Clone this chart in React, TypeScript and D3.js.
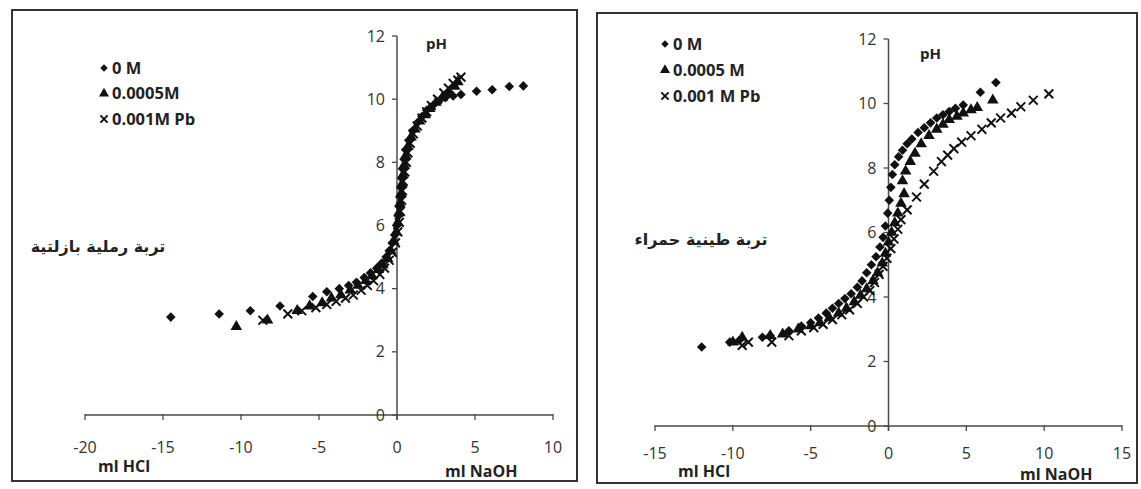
import React from "react";
import * as d3 from "d3";

type Pt = [number, number];

// Sandy basaltic soil (left panel): [ml titrant (HCl negative, NaOH positive), pH]
const sandyZeroM: Pt[] = [
  [-14.5, 3.1], [-11.4, 3.2], [-9.4, 3.3], [-7.5, 3.45], [-5.4, 3.75], [-4.5, 3.9],
  [-3.7, 4.0], [-3.1, 4.1], [-2.6, 4.2], [-2.1, 4.35], [-1.7, 4.5], [-1.3, 4.65],
  [-1.0, 4.8], [-0.7, 5.0], [-0.5, 5.2], [-0.3, 5.45], [-0.15, 5.7], [0.0, 6.0],
  [0.1, 6.3], [0.15, 6.6], [0.2, 6.9], [0.25, 7.2], [0.3, 7.5], [0.35, 7.8],
  [0.45, 8.1], [0.55, 8.4], [0.75, 8.7], [1.0, 9.0], [1.3, 9.25], [1.6, 9.45],
  [1.9, 9.65], [2.3, 9.8], [2.7, 9.95], [3.1, 10.05], [3.6, 10.1], [4.1, 10.15],
  [5.1, 10.25], [6.1, 10.3], [7.2, 10.4], [8.1, 10.42],
];
const sandyHalfMilli: Pt[] = [
  [-10.3, 2.8], [-8.3, 3.0], [-6.4, 3.3], [-5.6, 3.45], [-4.8, 3.55], [-4.2, 3.7],
  [-3.6, 3.8], [-3.0, 3.95], [-2.5, 4.1], [-2.0, 4.25], [-1.6, 4.4], [-1.2, 4.6],
  [-0.9, 4.75], [-0.6, 4.95], [-0.4, 5.2], [-0.2, 5.5], [-0.05, 5.8], [0.05, 6.1],
  [0.12, 6.4], [0.18, 6.7], [0.25, 7.0], [0.3, 7.3], [0.38, 7.6], [0.45, 7.9],
  [0.55, 8.2], [0.7, 8.5], [0.9, 8.8], [1.15, 9.05], [1.45, 9.3], [1.8, 9.5],
  [2.1, 9.7], [2.5, 9.9], [2.9, 10.05], [3.3, 10.2], [3.7, 10.4], [3.9, 10.55],
];
const sandyOneMilliPb: Pt[] = [
  [-8.6, 3.0], [-7.0, 3.2], [-6.1, 3.3], [-5.2, 3.4], [-4.5, 3.5], [-3.9, 3.6],
  [-3.3, 3.7], [-2.8, 3.8], [-2.3, 3.95], [-1.9, 4.1], [-1.5, 4.25], [-1.1, 4.45],
  [-0.8, 4.65], [-0.5, 4.9], [-0.3, 5.15], [-0.1, 5.45], [0.05, 5.8], [0.15, 6.1],
  [0.22, 6.45], [0.3, 6.8], [0.35, 7.1], [0.4, 7.4], [0.5, 7.7], [0.6, 8.0],
  [0.7, 8.3], [0.85, 8.6], [1.05, 8.9], [1.3, 9.15], [1.6, 9.4], [1.9, 9.6],
  [2.2, 9.8], [2.6, 10.0], [3.0, 10.2], [3.3, 10.35], [3.6, 10.5], [3.9, 10.6],
  [4.1, 10.7],
];

// Red clay soil (right panel)
const clayZeroM: Pt[] = [
  [-12.0, 2.45], [-10.2, 2.6], [-9.6, 2.65], [-8.1, 2.75], [-7.6, 2.8], [-6.4, 2.95],
  [-5.6, 3.1], [-5.0, 3.2], [-4.5, 3.35], [-4.0, 3.5], [-3.6, 3.65], [-3.2, 3.8],
  [-2.8, 3.95], [-2.4, 4.1], [-2.0, 4.3], [-1.7, 4.5], [-1.4, 4.75], [-1.1, 5.0],
  [-0.8, 5.25], [-0.55, 5.55], [-0.35, 5.85], [-0.2, 6.2], [-0.05, 6.6], [0.05, 7.0],
  [0.15, 7.4], [0.25, 7.8], [0.4, 8.1], [0.65, 8.35], [0.9, 8.55], [1.2, 8.75],
  [1.5, 8.9], [1.9, 9.1], [2.3, 9.25], [2.7, 9.4], [3.1, 9.55], [3.5, 9.65],
  [3.9, 9.75], [4.3, 9.85], [4.8, 9.95], [5.9, 10.35], [6.9, 10.65],
];
const clayHalfMilli: Pt[] = [
  [-10.0, 2.6], [-9.4, 2.75], [-7.6, 2.8], [-6.8, 2.85], [-5.8, 3.0], [-5.0, 3.1],
  [-4.4, 3.2], [-3.8, 3.35], [-3.2, 3.5], [-2.7, 3.65], [-2.2, 3.85], [-1.8, 4.05],
  [-1.4, 4.25], [-1.0, 4.5], [-0.7, 4.75], [-0.4, 5.05], [-0.2, 5.35], [0.0, 5.7],
  [0.2, 6.0], [0.4, 6.3], [0.6, 6.6], [0.8, 6.9], [1.0, 7.2], [0.9, 7.6],
  [1.1, 7.9], [1.4, 8.2], [1.7, 8.45], [2.1, 8.75], [2.6, 9.0], [3.1, 9.2],
  [3.5, 9.35], [3.9, 9.5], [4.4, 9.6], [4.8, 9.7], [5.3, 9.8], [5.7, 9.87],
  [6.7, 10.1],
];
const clayOneMilliPb: Pt[] = [
  [-9.4, 2.5], [-9.0, 2.6], [-7.5, 2.6], [-6.4, 2.8], [-5.6, 2.95], [-4.8, 3.05],
  [-4.2, 3.15], [-3.6, 3.3], [-3.0, 3.45], [-2.5, 3.6], [-2.0, 3.8], [-1.6, 4.0],
  [-1.2, 4.2], [-0.9, 4.45], [-0.6, 4.7], [-0.35, 4.95], [-0.1, 5.2], [0.15, 5.5],
  [0.35, 5.8], [0.6, 6.1], [0.8, 6.4], [1.2, 6.7], [1.8, 7.1], [2.3, 7.5],
  [2.9, 7.9], [3.4, 8.2], [3.8, 8.4], [4.2, 8.6], [4.7, 8.8], [5.3, 9.0],
  [6.0, 9.2], [6.6, 9.4], [7.2, 9.55], [7.9, 9.7], [8.5, 9.9], [9.3, 10.1],
  [10.3, 10.3],
];

const sandyLegend = ["0 M", "0.0005M", "0.001M Pb"];
const clayLegend = ["0 M", "0.0005 M", "0.001 M Pb"];
const sandyXTicks = [-20, -15, -10, -5, 0, 5, 10];
const clayXTicks = [-15, -10, -5, 0, 5, 10, 15];
const yTicks = [0, 2, 4, 6, 8, 10, 12];

const INK = "#111";
const AXIS = "#4a4a4a";
const TICK_TEXT = "#333";
const FONT = "'Open Sans', 'Noto Sans', sans-serif";

type Kind = "diamond" | "triangle" | "cross";

const diamondPath = d3.symbol(d3.symbolSquare, 46)()!;
const trianglePath = d3.symbol(d3.symbolTriangle, 58)()!;
const crossPath = d3.symbol(d3.symbolTimes, 52)()!;
const legendDiamond = d3.symbol(d3.symbolSquare, 28)()!;
const legendTriangle = d3.symbol(d3.symbolTriangle, 44)()!;
const legendCross = d3.symbol(d3.symbolTimes, 36)()!;

function Marker({ kind, x, y, small }: { kind: Kind; x: number; y: number; small?: boolean }) {
  if (kind === "diamond")
    return (
      <path
        d={small ? legendDiamond : diamondPath}
        transform={`translate(${x},${y}) rotate(45)`}
        fill={INK}
      />
    );
  if (kind === "triangle")
    return <path d={small ? legendTriangle : trianglePath} transform={`translate(${x},${y})`} fill={INK} />;
  return (
    <path
      d={small ? legendCross : crossPath}
      transform={`translate(${x},${y})`}
      fill="none"
      stroke={INK}
      strokeWidth={2}
    />
  );
}

interface PanelProps {
  box: [number, number, number, number];
  xDomain: [number, number];
  xRange: [number, number];
  yRange: [number, number];
  xTicks: number[];
  tickOffset: number;
  series: { kind: Kind; data: Pt[] }[];
  legend: string[];
  legendX: number;
  legendY: number;
  legendGap: number;
  soil: string;
  soilX: number;
  soilY: number;
  phPos: [number, number];
  hclPos: [number, number];
  naohPos: [number, number];
}

function Panel(p: PanelProps) {
  const x = d3.scaleLinear().domain(p.xDomain).range(p.xRange);
  const y = d3.scaleLinear().domain([0, 12]).range(p.yRange);
  const x0 = x(0);
  const y0 = y(0);
  const kinds: Kind[] = ["diamond", "triangle", "cross"];
  return (
    <g>
      <rect
        x={p.box[0]}
        y={p.box[1]}
        width={p.box[2]}
        height={p.box[3]}
        fill="none"
        stroke="#333"
        strokeWidth={2}
      />
      {/* x axis */}
      <line x1={x(p.xDomain[0])} x2={x(p.xDomain[1])} y1={y0} y2={y0} stroke={AXIS} strokeWidth={1.5} />
      {p.xTicks.map((t) => (
        <g key={`xt${t}`}>
          <line x1={x(t)} x2={x(t)} y1={y0 - 1} y2={y0 + 5} stroke={AXIS} strokeWidth={1.3} />
          <text
            x={x(t)}
            y={y0 + p.tickOffset}
            textAnchor="middle"
            fontFamily={FONT}
            fontSize={16}
            fill={TICK_TEXT}
          >
            {t}
          </text>
        </g>
      ))}
      {/* y axis */}
      <line x1={x0} x2={x0} y1={y(12)} y2={y0 + 5} stroke={AXIS} strokeWidth={1.5} />
      {yTicks.map((t) => (
        <g key={`yt${t}`}>
          <line x1={x0 - 5} x2={x0} y1={y(t)} y2={y(t)} stroke={AXIS} strokeWidth={1.3} />
          <text
            x={x0 - 12}
            y={y(t)}
            dy="0.35em"
            textAnchor="end"
            fontFamily={FONT}
            fontSize={16}
            fill={TICK_TEXT}
          >
            {t}
          </text>
        </g>
      ))}
      <text x={p.phPos[0]} y={p.phPos[1]} fontFamily={FONT} fontWeight={700} fontSize={15} fill="#222">
        pH
      </text>
      <text x={p.hclPos[0]} y={p.hclPos[1]} fontFamily={FONT} fontWeight={700} fontSize={16} fill="#222">
        ml HCl
      </text>
      <text x={p.naohPos[0]} y={p.naohPos[1]} fontFamily={FONT} fontWeight={700} fontSize={16} fill="#222">
        ml NaOH
      </text>
      {/* soil label */}
      <text
        x={p.soilX}
        y={p.soilY}
        textAnchor="middle"
        direction="rtl"
        fontFamily="'DejaVu Sans', sans-serif"
        fontWeight={700}
        fontSize={16}
        fill="#222"
      >
        {p.soil}
      </text>
      {/* legend */}
      {p.legend.map((label, i) => (
        <g key={`lg${i}`}>
          <Marker kind={kinds[i]} x={p.legendX} y={p.legendY + i * p.legendGap} small />
          <text
            x={p.legendX + 8}
            y={p.legendY + i * p.legendGap}
            dy="0.36em"
            fontFamily={FONT}
            fontWeight={700}
            fontSize={16.5}
            fill="#222"
          >
            {label}
          </text>
        </g>
      ))}
      {/* data */}
      {p.series.map((s, si) => (
        <g key={`s${si}`}>
          {s.data.map((d, i) => (
            <Marker key={i} kind={s.kind} x={x(d[0])} y={y(d[1])} />
          ))}
        </g>
      ))}
    </g>
  );
}

export default function App() {
  return (
    <svg
      width={1141}
      height={489}
      style={{ position: "absolute", left: 0, top: 0, background: "#fff" }}
    >
      <rect width={1141} height={489} fill="#fff" />
      <Panel
        box={[12, 10, 565, 471]}
        xDomain={[-20, 10]}
        xRange={[85, 553]}
        yRange={[415, 36]}
        xTicks={sandyXTicks}
        tickOffset={38}
        series={[
          { kind: "diamond", data: sandyZeroM },
          { kind: "triangle", data: sandyHalfMilli },
          { kind: "cross", data: sandyOneMilliPb },
        ]}
        legend={sandyLegend}
        legendX={104}
        legendY={68}
        legendGap={25.5}
        soil="تربة رملية بازلتية"
        soilX={98}
        soilY={252}
        phPos={[426, 49]}
        hclPos={[98, 472]}
        naohPos={[445, 477]}
      />
      <Panel
        box={[597, 13, 540, 470]}
        xDomain={[-15, 15]}
        xRange={[655, 1122]}
        yRange={[426, 39]}
        xTicks={clayXTicks}
        tickOffset={33}
        series={[
          { kind: "diamond", data: clayZeroM },
          { kind: "triangle", data: clayHalfMilli },
          { kind: "cross", data: clayOneMilliPb },
        ]}
        legend={clayLegend}
        legendX={665}
        legendY={44}
        legendGap={26}
        soil="تربة طينية حمراء"
        soilX={701}
        soilY={245}
        phPos={[920, 59]}
        hclPos={[678, 477]}
        naohPos={[1020, 480]}
      />
    </svg>
  );
}
